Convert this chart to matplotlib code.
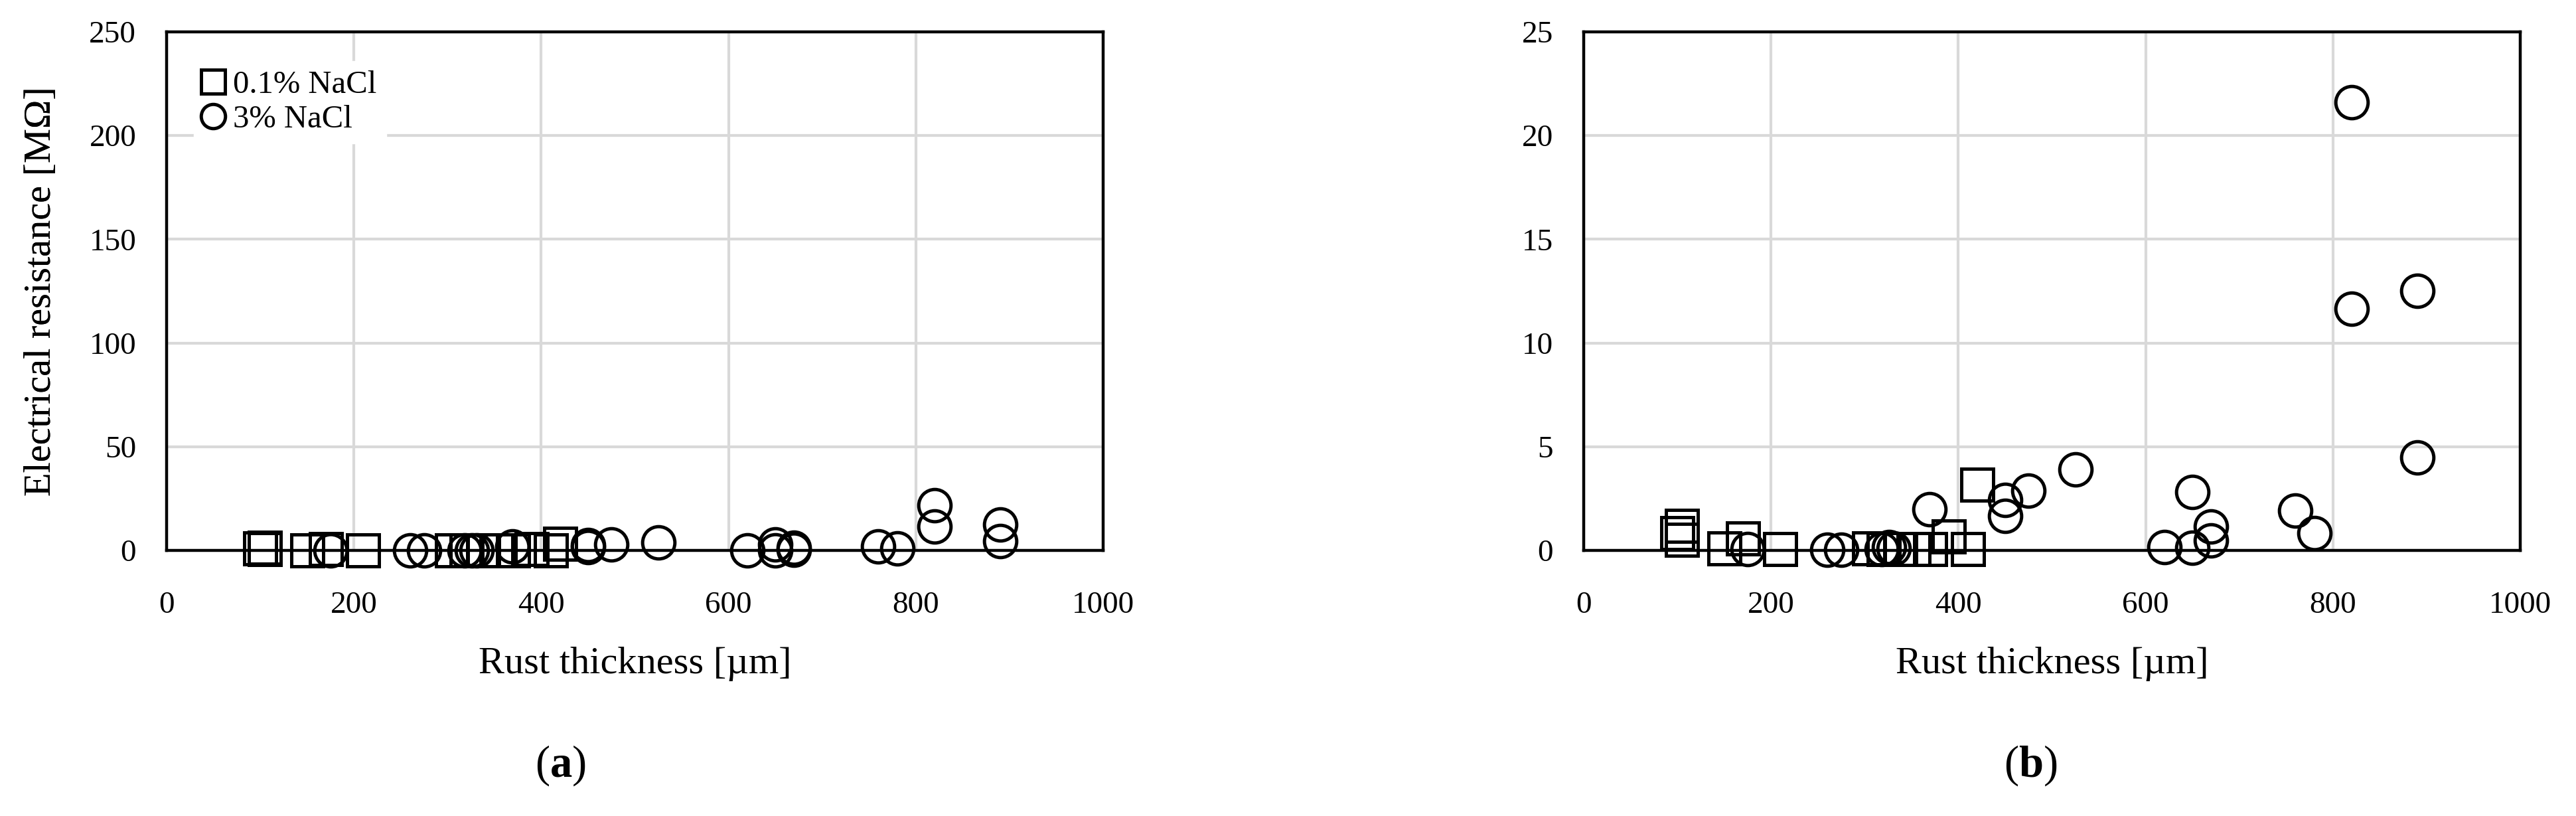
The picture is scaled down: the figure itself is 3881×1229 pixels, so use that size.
"""Electrical resistance of rust layers vs. rust thickness, two y ranges."""

import matplotlib

matplotlib.use("Agg")
import matplotlib.pyplot as plt

plt.rcParams["font.family"] = ["Liberation Serif", "DejaVu Serif"]
plt.rcParams["mathtext.fontset"] = "custom"
plt.rcParams["mathtext.rm"] = "Liberation Serif"
plt.rcParams["mathtext.bf"] = "Liberation Serif:bold"

# 0.1% NaCl (squares)
low_x = [100, 105, 105, 150, 170, 210, 305, 320, 338, 352, 370, 390, 410, 420]
low_r = [0.82, 1.19, 0.50, 0.10, 0.58, 0.07, 0.09, 0.05, 0.05, 0.05, 0.07, 0.66, 0.07, 3.17]

# 3% NaCl (circles)
high_x = [175, 260, 275, 318, 326, 331, 369, 450, 450, 475, 525,
          620, 650, 650, 670, 670, 760, 780, 820, 820, 890, 890]
high_r = [0.07, 0.03, 0.03, 0.05, 0.15, 0.10, 1.99, 2.42, 1.67, 2.87, 3.91,
          0.15, 0.13, 2.83, 1.14, 0.47, 1.92, 0.82, 21.62, 11.64, 12.52, 4.48]

X_TICKS = [0, 200, 400, 600, 800, 1000]
PANELS = [
    {"ymax": 250, "yticks": [0, 50, 100, 150, 200, 250], "tag": "a"},
    {"ymax": 25, "yticks": [0, 5, 10, 15, 20, 25], "tag": "b"},
]

W, H = 3881, 1229
AX_W, AX_H = 1411, 781
AX_BOTTOM = 829
AX_LEFTS = [251, 2386]
TAG_X = [844, 3059]
TICK_FS = 34
LABEL_FS = 42

fig = plt.figure(figsize=(W / 100, H / 100), dpi=100)

for left, tag_x, panel in zip(AX_LEFTS, TAG_X, PANELS):
    ax = fig.add_axes([left / W, (H - AX_BOTTOM) / H, AX_W / W, AX_H / H])
    mk = dict(ms=35, mew=3.6, mec="black", mfc="none", ls="none",
              clip_on=False, zorder=4)
    ax.plot(low_x, low_r, marker="s", label="0.1% NaCl", **mk)
    ax.plot(high_x, high_r, marker="o", label="3% NaCl", **mk)

    ax.set_xlim(0, 1000)
    ax.set_ylim(0, panel["ymax"])
    ax.set_xticks(X_TICKS)
    ax.set_yticks(panel["yticks"])
    ax.grid(True, color="#d9d9d9", lw=3)
    ax.set_axisbelow(True)
    for sp in ax.spines.values():
        sp.set_linewidth(3.2)
        sp.set_color("black")
        sp.set_zorder(3)
    ax.tick_params(axis="x", length=0, pad=44, labelsize=TICK_FS)
    ax.tick_params(axis="y", length=0, pad=33, labelsize=TICK_FS)

    ax.text(0.5, (AX_BOTTOM - 1000) / AX_H, "Rust thickness [µm]", fontsize=LABEL_FS,
            transform=ax.transAxes, ha="center", va="center")
    ax.text((62 - left) / AX_W, 0.5, "Electrical resistance [MΩ]", fontsize=LABEL_FS,
            rotation=90, transform=ax.transAxes, ha="center", va="center")

    fig.text(tag_x / W, 1 - 1153 / H, r"($\mathbf{" + panel["tag"] + "}$)",
             fontsize=48, ha="center", va="center")

    if panel["tag"] == "a":
        leg = ax.legend(loc="upper left", bbox_to_anchor=(0.012, 0.975), fontsize=35,
                        markerscale=0.75, handlelength=0.6, handletextpad=0.3,
                        labelspacing=0.15, borderpad=0.3, frameon=True,
                        facecolor="white", edgecolor="white", framealpha=1,
                        fancybox=False)
        leg.set_zorder(5)

fig.savefig("out.png", dpi=100)
